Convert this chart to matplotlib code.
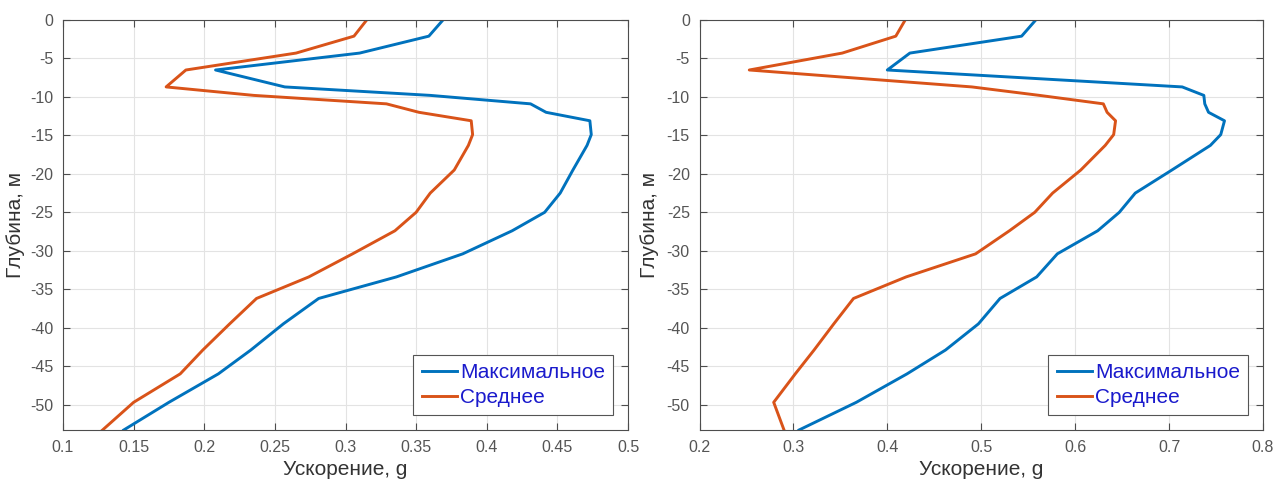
import matplotlib
matplotlib.use('Agg')
import matplotlib.pyplot as plt
from matplotlib.ticker import FormatStrFormatter

plt.rcParams['font.family'] = ['Liberation Sans', 'DejaVu Sans']
plt.rcParams['axes.unicode_minus'] = False

# depth levels, m
depth = [0, -2.1, -4.3, -6.5, -8.7, -9.8, -10.9, -12.0, -13.1, -14.9, -16.3,
         -19.5, -22.5, -25.0, -27.4, -30.4, -33.4, -36.2, -39.5, -42.9,
         -46.0, -49.7, -53.3]

# left panel
max_1 = [0.369, 0.359, 0.310, 0.208, 0.257, 0.360, 0.431, 0.442, 0.473, 0.474,
         0.471, 0.461, 0.452, 0.441, 0.418, 0.383, 0.336, 0.281, 0.256, 0.233,
         0.210, 0.175, 0.143]
mean_1 = [0.315, 0.306, 0.265, 0.187, 0.173, 0.235, 0.329, 0.352, 0.389, 0.390,
          0.387, 0.377, 0.360, 0.350, 0.335, 0.305, 0.274, 0.237, 0.218, 0.199,
          0.183, 0.150, 0.128]

# right panel
max_2 = [0.558, 0.543, 0.424, 0.400, 0.714, 0.737, 0.738, 0.742, 0.759, 0.755,
         0.744, 0.703, 0.664, 0.647, 0.624, 0.581, 0.559, 0.520, 0.497, 0.462,
         0.421, 0.367, 0.306]
mean_2 = [0.419, 0.409, 0.352, 0.253, 0.490, 0.562, 0.630, 0.634, 0.643, 0.641,
          0.632, 0.606, 0.576, 0.557, 0.530, 0.494, 0.420, 0.364, 0.343, 0.322,
          0.302, 0.279, 0.290]

labels = ['Максимальное', 'Среднее']
xticks_1 = [0.1, 0.15, 0.2, 0.25, 0.3, 0.35, 0.4, 0.45, 0.5]
xticks_2 = [0.2, 0.3, 0.4, 0.5, 0.6, 0.7, 0.8]
yticks = [0, -5, -10, -15, -20, -25, -30, -35, -40, -45, -50]

blue = '#0072BD'
red = '#D95319'
ax_col = '#4d4d4d'

fig = plt.figure(figsize=(12.74, 4.82), dpi=100)
ax1 = fig.add_axes([63/1274, 52/482, 565/1274, 410/482])
ax2 = fig.add_axes([699.5/1274, 52/482, 563.5/1274, 410/482])

panels = [(ax1, max_1, mean_1, xticks_1, -0.068),
          (ax2, max_2, mean_2, xticks_2, -0.072)]
for ax, mx, mn, xt, ylx in panels:
    ax.plot(mx, depth, color=blue, lw=2.1, label=labels[0])
    ax.plot(mn, depth, color=red, lw=2.1, label=labels[1])
    ax.set_xlim(xt[0], xt[-1])
    ax.set_ylim(-53.3, 0)
    ax.set_xticks(xt)
    ax.set_yticks(yticks)
    ax.xaxis.set_major_formatter(FormatStrFormatter('%g'))
    ax.grid(True, color='#e3e3e3', lw=0.8)
    ax.set_axisbelow(True)
    ax.tick_params(direction='in', top=True, right=True, length=5,
                   labelsize=11.5, colors=ax_col, labelcolor='#555555', pad=7)
    for s in ax.spines.values():
        s.set_color(ax_col)
        s.set_linewidth(0.8)
    ax.set_xlabel('Ускорение, g', fontsize=15, color='#333333')
    ax.set_ylabel('Глубина, м', fontsize=15, color='#333333')
    ax.xaxis.set_label_coords(0.5, -0.072)
    ax.yaxis.set_label_coords(ylx, 0.5)
    leg = ax.legend(loc='lower right', fontsize=15, handlelength=1.7,
                    handletextpad=0.15, borderaxespad=0.7, borderpad=0.4,
                    labelspacing=0.3, fancybox=False, framealpha=1)
    leg.get_frame().set_edgecolor('#555555')
    leg.get_frame().set_linewidth(0.8)
    for t in leg.get_texts():
        t.set_color('#1a1acc')

fig.savefig('out.png', dpi=100)
